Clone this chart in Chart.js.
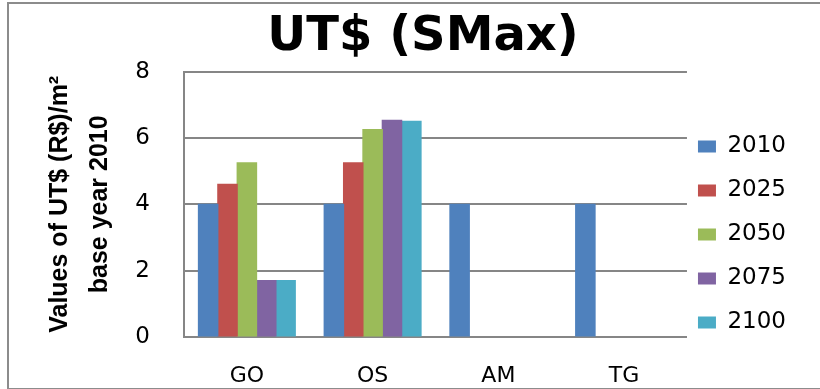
<!DOCTYPE html>
<html>
<head>
<meta charset="utf-8">
<script src="https://cdn.jsdelivr.net/npm/chart.js@4.4.1/dist/chart.umd.min.js"></script>
<style>
  html, body { margin: 0; padding: 0; background: #fff; }
  #wrap { position: relative; width: 820px; height: 389px; overflow: hidden; }
  #chart { display: block; }
  #frame { position: absolute; left: 7px; top: 2px; width: 830px; height: 384px; border: 2px solid #8c8c8c; pointer-events: none; }
</style>
</head>
<body>
<div id="wrap">
  <canvas id="chart" width="820" height="389"></canvas>
  <div id="frame"></div>
</div>
<script>
// categories and series
const regions = ['GO', 'OS', 'AM', 'TG'];
const years = ['2010', '2025', '2050', '2075', '2100'];
const v2010 = [4, 4, 4, 4];
const v2025 = [4.6, 5.25, null, null];
const v2050 = [5.25, 6.25, null, null];
const v2075 = [1.7, 6.53, null, null];
const v2100 = [1.7, 6.5, null, null];
const yTicks = [0, 2, 4, 6, 8];

const colors = ['#4F81BD', '#C0504D', '#9BBB59', '#8064A2', '#4BACC6'];
const series = [v2010, v2025, v2050, v2075, v2100];

const gridGray = '#868686';

// nudge the legend block to where the original had it
const legendShift = {
  id: 'legendShift',
  afterLayout(chart) {
    const lg = chart.legend;
    lg.left -= 10;
    lg.right -= 10;
    lg.top += 40;
    lg.bottom += 40;
  },
};

new Chart(document.getElementById('chart'), {
  type: 'bar',
  data: {
    labels: regions,
    datasets: series.map((vals, i) => ({
      label: years[i],
      data: vals,
      backgroundColor: colors[i],
      borderWidth: 0,
      inflateAmount: 0.6,
      barPercentage: 1,
      categoryPercentage: 0.77,
    })),
  },
  options: {
    responsive: false,
    animation: false,
    layout: { padding: { left: 40, right: 14, top: 0, bottom: 0 } },
    plugins: {
      title: {
        display: true,
        text: 'UT$ (SMax)',
        color: '#000',
        font: { family: 'DejaVu Sans', weight: 'bold', size: 48 },
        padding: { top: 9, bottom: 5 },
      },
      legend: {
        position: 'right',
        labels: {
          color: '#000',
          font: { family: 'DejaVu Sans', size: 23 },
          boxWidth: 18,
          boxHeight: 12,
          padding: 21,
        },
      },
      tooltip: { enabled: false },
    },
    scales: {
      x: {
        afterFit: (scale) => { scale.height = 52; },
        grid: { display: false, drawTicks: false },
        border: { color: gridGray, width: 2 },
        ticks: {
          color: '#000',
          padding: 26,
          font: { family: 'DejaVu Sans', size: 22 },
        },
      },
      y: {
        min: 0,
        max: 8,
        afterFit: (scale) => { scale.width = 144; },
        afterBuildTicks: (axis) => {
          axis.ticks = yTicks.map((v) => ({ value: v }));
        },
        grid: { color: gridGray, lineWidth: 2, drawTicks: false },
        border: { color: gridGray, width: 2 },
        ticks: {
          color: '#000',
          padding: 34,
          font: { family: 'DejaVu Sans', size: 23 },
        },
        title: {
          display: true,
          text: ['Values of UT$ (R$)/m²', 'base year 2010'],
          color: '#000',
          font: { family: 'Liberation Sans', weight: 'bold', size: 25, lineHeight: 1.6 },
          padding: { top: 0, bottom: 0 },
        },
      },
    },
  },
  plugins: [legendShift],
});
</script>
</body>
</html>
